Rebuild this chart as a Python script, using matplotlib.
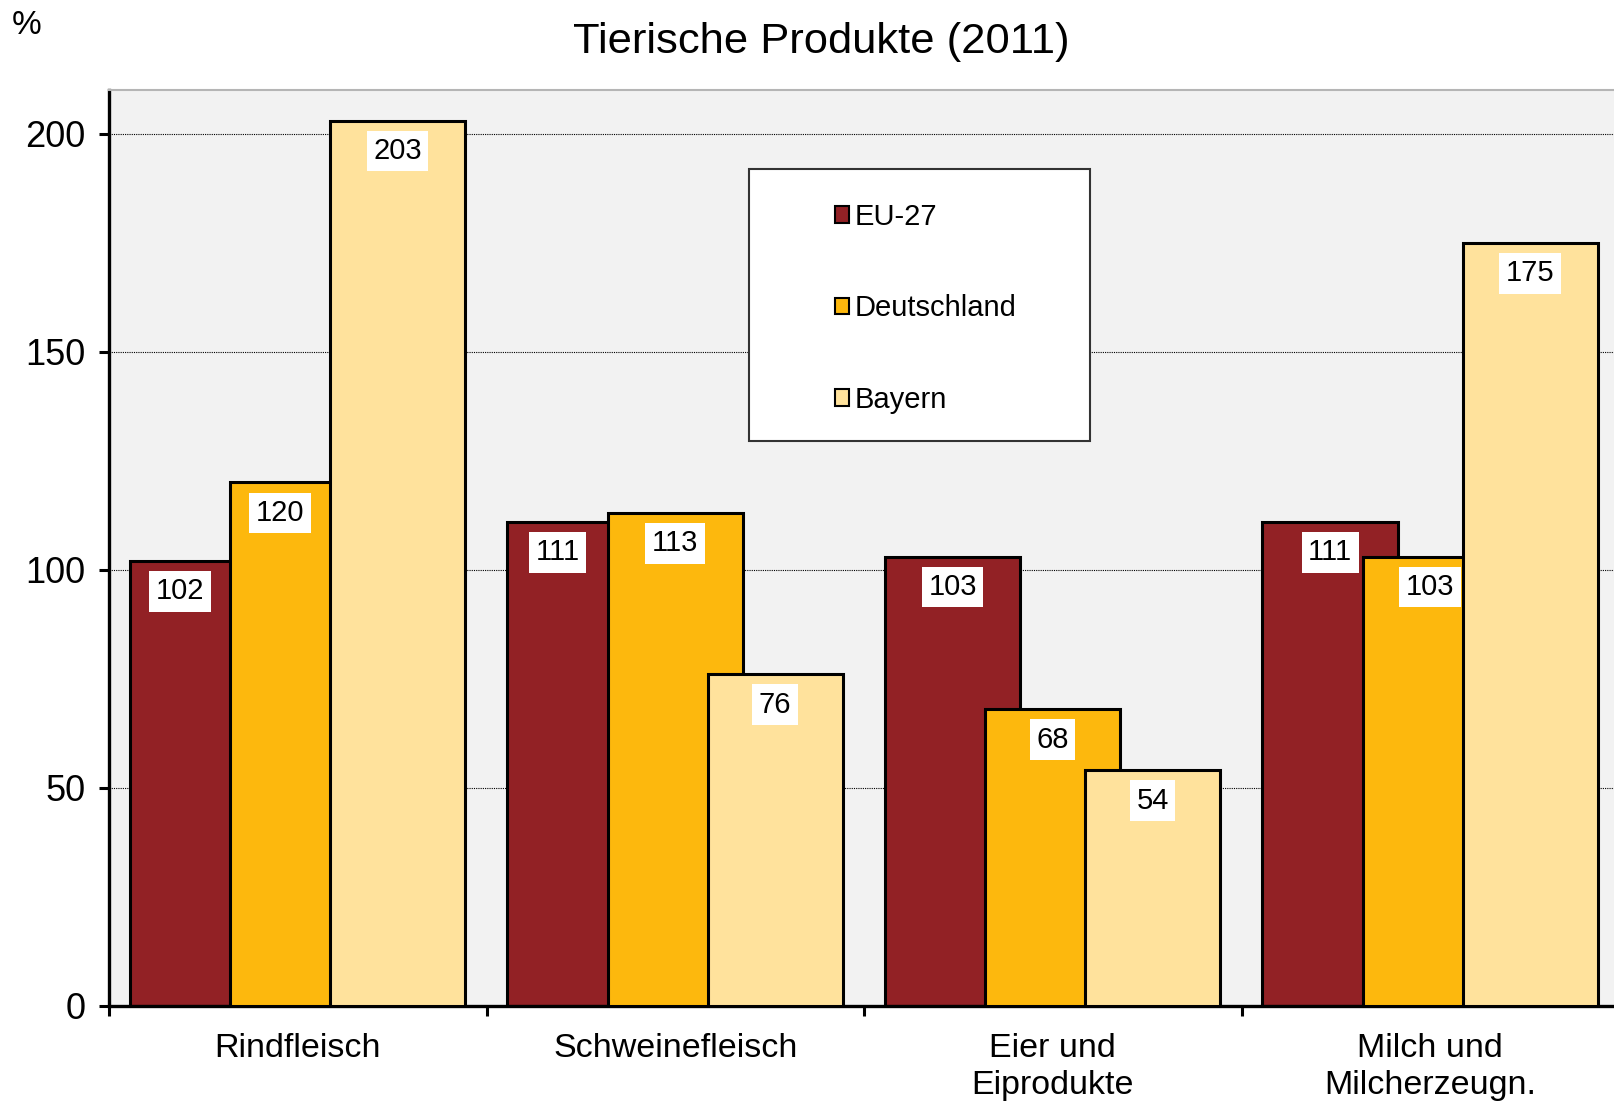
import matplotlib
matplotlib.use("Agg")
import matplotlib.pyplot as plt
from matplotlib.patches import Patch, Rectangle
import numpy as np

plt.rcParams["font.family"] = ["Liberation Sans", "DejaVu Sans"]

categories = ["Rindfleisch", "Schweinefleisch", "Eier und\nEiprodukte", "Milch und\nMilcherzeugn."]
series = ["EU-27", "Deutschland", "Bayern"]
eu27 = [102, 111, 103, 111]
deutschland = [120, 113, 68, 103]
bayern = [203, 76, 54, 175]
colors = ["#922125", "#FDB80D", "#FFE29C"]

values = [eu27, deutschland, bayern]

fig = plt.figure(figsize=(16.14, 11.02), dpi=100)
ax = fig.add_axes([109 / 1614, 96.4 / 1102, 1510 / 1614, 915.6 / 1102])
ax.set_facecolor("#F2F2F2")

# overlapping bars like the Excel original
step = 0.265
width = 0.358
offset = 0.0556

for k, vals in enumerate(values):
    lefts = np.arange(len(categories)) + offset + k * step
    ax.bar(lefts, vals, width=width, align="edge", color=colors[k],
           edgecolor="black", linewidth=2.2, zorder=2 + k)

# label x: centre of the visible part of the bar
for k, vals in enumerate(values):
    for i, v in enumerate(vals):
        left = i + offset + k * step
        if k < 2 and values[k + 1][i] > v and not (i == 3 and k == 1):
            xc = left + step / 2
        else:
            xc = left + width / 2
        ax.annotate(str(v), (xc, v), xytext=(0, -22), textcoords="offset points",
                    ha="center", va="center", fontsize=21, zorder=10,
                    bbox=dict(boxstyle="square,pad=0.22", fc="white", ec="none"))

ax.set_xlim(0, 4)
ax.set_ylim(0, 210)
ax.set_yticks([0, 50, 100, 150, 200])
ax.yaxis.grid(True, color="black", linestyle=(0, (1, 1)), linewidth=0.8)
ax.set_axisbelow(True)

ax.set_xticks([0, 1, 2, 3, 4])
ax.set_xticklabels([])
ax.set_xticks([0.5, 1.5, 2.5, 3.5], minor=True)
ax.set_xticklabels(categories, minor=True, fontsize=24.5, linespacing=1.25)
ax.tick_params(axis="x", which="minor", length=0, pad=20)
ax.tick_params(axis="x", which="major", length=7, width=2.2, direction="out")
ax.tick_params(axis="y", length=7, width=2.2, labelsize=26, pad=10)

for s in ["left", "bottom"]:
    ax.spines[s].set_linewidth(2.4)
ax.spines["right"].set_visible(False)
ax.spines["top"].set_color("#B5B5B5")
ax.spines["top"].set_linewidth(1.5)

fig.text(821 / 1614, 1 - 42 / 1102, "Tierische Produkte (2011)", ha="center",
         va="center", fontsize=31.3)
fig.text(12 / 1614, 1 - 26 / 1102, "%", ha="left", va="center", fontsize=24)

# legend box
fig.patches.append(Rectangle((749 / 1614, 1 - 441 / 1102), 341 / 1614, 272 / 1102,
                             transform=fig.transFigure, facecolor="white",
                             edgecolor="#333333", linewidth=1.5, zorder=20))
handles = [Patch(facecolor=c, edgecolor="black", linewidth=1.5) for c in colors]
leg = fig.legend(handles, series, loc="upper left",
                 bbox_to_anchor=(820 / 1614, 1 - 188 / 1102), frameon=False,
                 fontsize=21, handlelength=0.5, handleheight=0.5,
                 handletextpad=0.2, labelspacing=2.18, borderpad=0)
leg.set_zorder(21)

fig.savefig("out.png", dpi=100)
